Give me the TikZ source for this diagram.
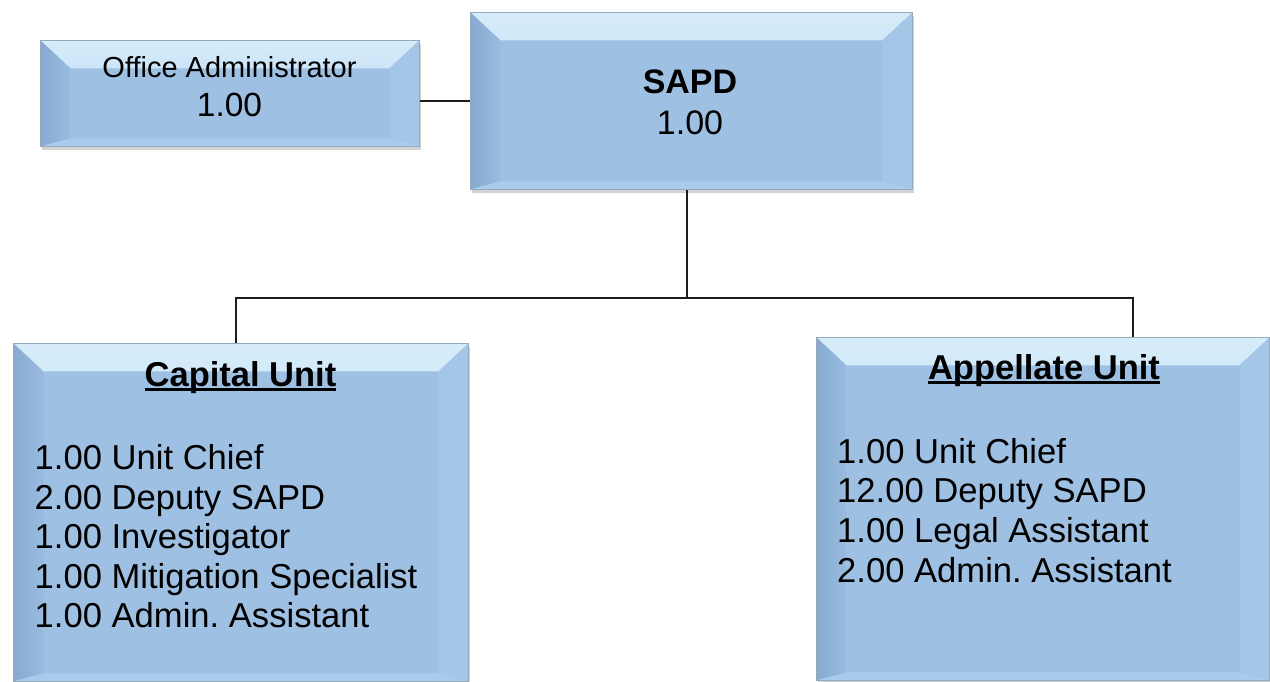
\documentclass[tikz,border=0pt]{standalone}
\usepackage{fontspec}
\setmainfont{Liberation Sans}
\frenchspacing
\usetikzlibrary{shadows}
\definecolor{boxblue}{RGB}{158,192,226}
\definecolor{bevtopA}{RGB}{214,236,250}
\definecolor{bevtopB}{RGB}{176,208,238}
\definecolor{bevleftA}{RGB}{136,170,208}
\definecolor{bevleftB}{RGB}{152,187,223}
\definecolor{bevright}{RGB}{164,198,231}
\definecolor{bevbot}{RGB}{170,204,236}
\definecolor{boxedge}{RGB}{150,170,190}
\definecolor{linecol}{RGB}{30,30,30}
\newcommand\myul[1]{\setbox0\hbox{#1}\rlap{\copy0}\rule[-4.5pt]{\wd0}{2.2pt}}
\tikzset{
  bevelbox/.style={rectangle, anchor=north west, inner sep=0pt, fill=boxblue,
    draw=boxedge, line width=0.8pt,
    drop shadow={opacity=0.35, shadow xshift=2pt, shadow yshift=-4pt},
    path picture={
      \def\bb{path picture bounding box}
      \shade[top color=bevtopA, bottom color=bevtopB]
        (\bb.north west) -- (\bb.north east) -- ([shift={(-30pt,-28pt)}]\bb.north east)
        -- ([shift={(30pt,-28pt)}]\bb.north west) -- cycle;
      \shade[left color=bevleftA, right color=bevleftB]
        (\bb.north west) -- ([shift={(30pt,-28pt)}]\bb.north west)
        -- ([shift={(30pt,8pt)}]\bb.south west) -- (\bb.south west) -- cycle;
      \fill[bevright]
        (\bb.north east) -- ([shift={(-30pt,-28pt)}]\bb.north east)
        -- ([shift={(-30pt,8pt)}]\bb.south east) -- (\bb.south east) -- cycle;
      \fill[bevbot]
        (\bb.south west) -- ([shift={(30pt,8pt)}]\bb.south west)
        -- ([shift={(-30pt,8pt)}]\bb.south east) -- (\bb.south east) -- cycle;
    }},
  txt/.style={inner sep=0pt, text=black, font=\fontsize{34.6}{40}\selectfont},
  conn/.style={draw=linecol, line width=1.3pt}
}
\begin{document}
\begin{tikzpicture}[x=1pt,y=-1pt]
\useasboundingbox (0,0) rectangle (1270,682);
% boxes
\node[bevelbox, minimum width=379pt, minimum height=106pt] (oa) at (40,40) {};
\node[bevelbox, minimum width=442pt, minimum height=177pt] (sapd) at (470,12) {};
\node[bevelbox, minimum width=455pt, minimum height=338pt] (cap) at (13,343) {};
\node[bevelbox, minimum width=453pt, minimum height=343pt] (app) at (816,337) {};
% connectors
\coordinate (bus) at (687,298);
\coordinate (capx) at (236,0);
\coordinate (appx) at (1133,0);
\draw[conn] (sapd.west) -- (sapd.west -| oa.east);
\draw[conn] (sapd.south -| bus) -- (bus);
\draw[conn] (cap.north -| capx) |- (bus) -| (app.north -| appx);
% texts
\node[txt, anchor=base, font=\fontsize{29}{34}\selectfont] (oat) at (229.5,78) {Office Administrator};
\node[txt, anchor=base, font=\fontsize{33.5}{40}\selectfont] (oan) at (229.5,117) {1.00};
\node[txt, anchor=base, font=\fontsize{34}{40}\selectfont\bfseries] (sapdt) at (690,94) {SAPD};
\node[txt, anchor=base, font=\fontsize{34}{40}\selectfont] (sapdn) at (690,135) {1.00};
\node[txt, anchor=base, font=\fontsize{34.5}{40}\selectfont\bfseries] (capt) at (240.5,386) {\myul{Capital Unit}};
\node[txt, anchor=base, font=\fontsize{34.5}{40}\selectfont\bfseries] (appt) at (1044,379) {\myul{Appellate Unit}};
\foreach \t [count=\i from 0] in {1.00 Unit Chief, 2.00 Deputy SAPD, 1.00 Investigator, 1.00 Mitigation Specialist, 1.00 Admin. Assistant}
  \node[txt, anchor=base west] (capl\i) at (34.5,{469.5+39.6*\i}) {\t};
\foreach \t [count=\i from 0] in {1.00 Unit Chief, 12.00 Deputy SAPD, 1.00 Legal Assistant, 2.00 Admin. Assistant}
  \node[txt, anchor=base west] (appl\i) at (837,{463+39.7*\i}) {\t};
\end{tikzpicture}
\end{document}
